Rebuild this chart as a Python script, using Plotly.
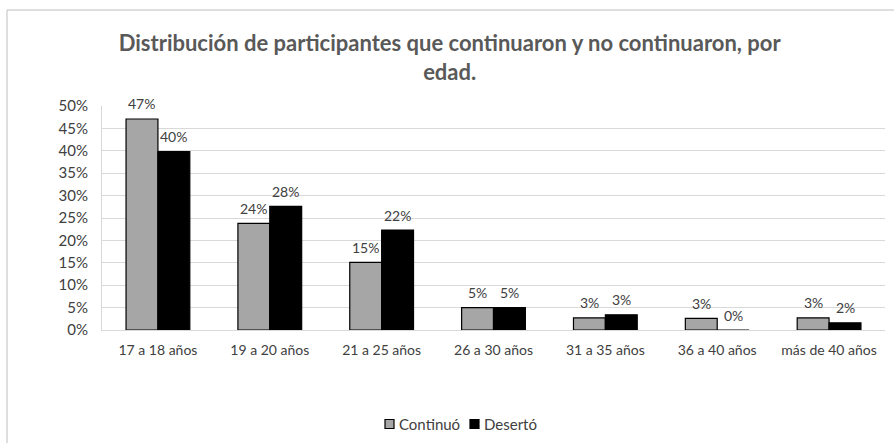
import plotly.graph_objects as go

categories = ["17 a 18 años", "19 a 20 años", "21 a 25 años", "26 a 30 años",
              "31 a 35 años", "36 a 40 años", "más de 40 años"]
continuo = [0.471, 0.238, 0.151, 0.050, 0.027, 0.026, 0.027]
deserto = [0.398, 0.276, 0.223, 0.050, 0.034, 0.0, 0.016]
y_ticks = [0, 0.05, 0.10, 0.15, 0.20, 0.25, 0.30, 0.35, 0.40, 0.45, 0.50]
y_tick_labels = ["0%", "5%", "10%", "15%", "20%", "25%", "30%", "35%", "40%", "45%", "50%"]
series_names = ["Continuó", "Desertó"]

FONT = "Lato, Open Sans, sans-serif"
W, H = 894, 443
ml, mr, mt, mb = 102, 9, 106, 113
pw, ph = W - ml - mr, H - mt - mb

def px_x(p):
    return (p - ml) / pw

def px_y(p):
    return (H - mb - p) / ph

fig = go.Figure()
fig.add_bar(x=categories, y=continuo, name=series_names[0],
            marker=dict(color="#a6a6a6", line=dict(color="#000000", width=1.2)))
fig.add_bar(x=categories, y=deserto, name=series_names[1],
            marker=dict(color="#000000", line=dict(color="#000000", width=1.2)))

# data labels above bars
bar_px = pw / len(categories) * (1 - 0.43) / 2
for vals, shift in ((continuo, -bar_px / 2), (deserto, bar_px / 2)):
    for c, v in zip(categories, vals):
        fig.add_annotation(x=c, y=v, xref="x", yref="y", text=f"{round(v * 100)}%",
                           showarrow=False, xanchor="center", yanchor="middle",
                           xshift=shift, yshift=15,
                           font=dict(size=14, color="#404040", family=FONT))

fig.update_layout(
    width=W, height=H,
    margin=dict(l=ml, r=mr, t=mt, b=mb, autoexpand=False),
    paper_bgcolor="white", plot_bgcolor="white",
    barmode="group", bargap=0.43, bargroupgap=0,
    font=dict(family=FONT, size=14, color="#404040"),
    title=dict(text="<b>Distribución de participantes que continuaron y no continuaron, por<br>edad.</b>",
               x=0.503, xanchor="center", y=0.884, yanchor="middle",
               font=dict(size=22, color="#595959", family=FONT)),
    showlegend=False,
    yaxis=dict(range=[0, 0.5], tickvals=y_ticks, ticktext=y_tick_labels,
               showgrid=True, gridcolor="#d9d9d9", gridwidth=1,
               showline=True, linecolor="#d9d9d9", zeroline=False,
               automargin=False, ticklabelstandoff=10,
               tickfont=dict(size=15, color="#404040")),
    xaxis=dict(showline=True, linecolor="#d9d9d9", automargin=False,
               ticklabelstandoff=7,
               tickfont=dict(size=14, color="#404040")),
)

# chart frame
fig.add_shape(type="rect", xref="paper", yref="paper",
              x0=px_x(7), x1=px_x(W + 10), y0=px_y(H + 10), y1=px_y(10),
              line=dict(color="#bfbfbf", width=1), fillcolor="rgba(0,0,0,0)", layer="below")

# legend drawn manually
leg_y = 424
legend_items = [(385, "#a6a6a6", series_names[0]), (470, "#000000", series_names[1])]
for x0, col, name in legend_items:
    fig.add_shape(type="rect", xref="paper", yref="paper",
                  x0=px_x(x0), x1=px_x(x0 + 9), y0=px_y(leg_y + 4.5), y1=px_y(leg_y - 4.5),
                  line=dict(color="#000000", width=1.2), fillcolor=col)
    fig.add_annotation(xref="paper", yref="paper", x=px_x(x0 + 12), y=px_y(leg_y),
                       xanchor="left", yanchor="middle", text=name, showarrow=False,
                       font=dict(size=15, color="#404040", family=FONT))

fig.write_html("out.html", config={"displayModeBar": False},
               post_script="document.body.style.margin='0';")
